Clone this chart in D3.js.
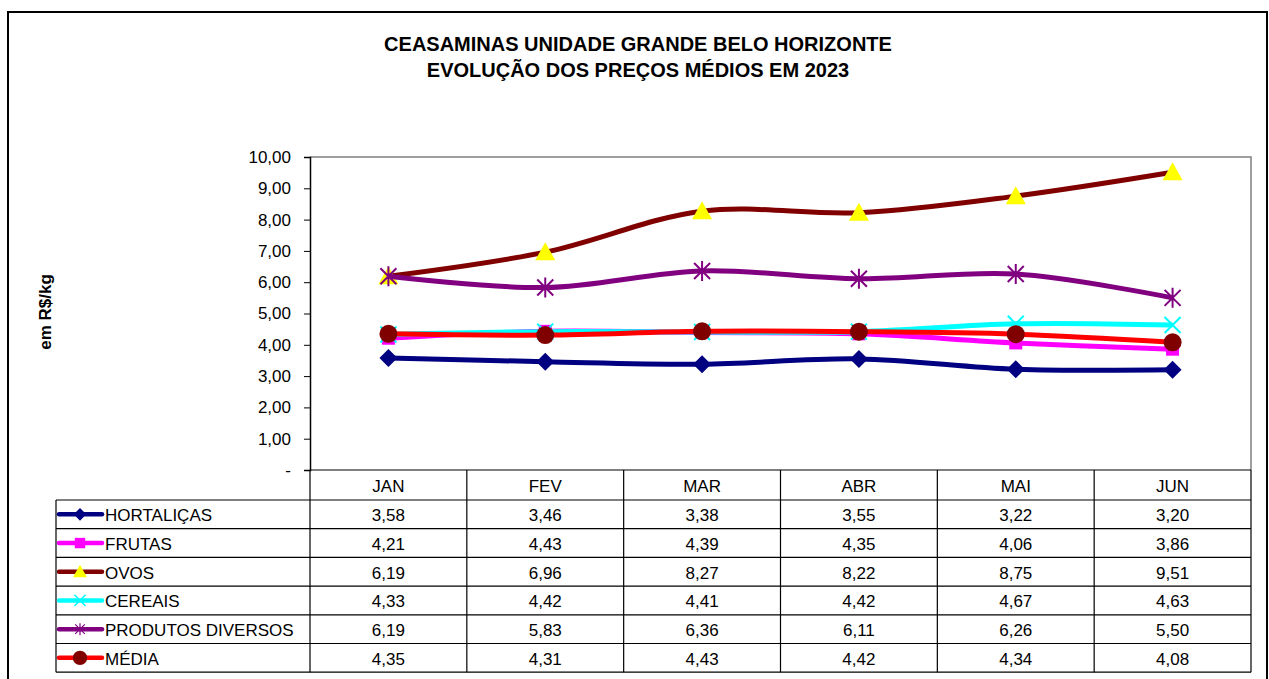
<!DOCTYPE html>
<html>
<head>
<meta charset="utf-8">
<script src="https://cdn.jsdelivr.net/npm/d3@7"></script>
<style>
  body { margin: 0; background: #fff; }
  text { font-family: "Liberation Sans", Arial, sans-serif; }
</style>
</head>
<body>
<div id="chart"></div>
<script>
// data
const months = ["JAN", "FEV", "MAR", "ABR", "MAI", "JUN"];
const seriesNames = ["HORTALIÇAS", "FRUTAS", "OVOS", "CEREAIS", "PRODUTOS DIVERSOS", "MÉDIA"];
const hortalicas = [3.58, 3.46, 3.38, 3.55, 3.22, 3.20];
const frutas = [4.21, 4.43, 4.39, 4.35, 4.06, 3.86];
const ovos = [6.19, 6.96, 8.27, 8.22, 8.75, 9.51];
const cereais = [4.33, 4.42, 4.41, 4.42, 4.67, 4.63];
const diversos = [6.19, 5.83, 6.36, 6.11, 6.26, 5.50];
const media = [4.35, 4.31, 4.43, 4.42, 4.34, 4.08];
const yTicks = [0, 1, 2, 3, 4, 5, 6, 7, 8, 9, 10];

const allValues = [hortalicas, frutas, ovos, cereais, diversos, media];
const styles = [
  { line: "#000080", marker: "diamond", fill: "#000080" },
  { line: "#FF00FF", marker: "square", fill: "#FF00FF" },
  { line: "#800000", marker: "triangle", fill: "#FFFF00" },
  { line: "#00FFFF", marker: "x", fill: "#00FFFF" },
  { line: "#800080", marker: "star", fill: "#800080" },
  { line: "#FF0000", marker: "circle", fill: "#800000" }
];
const series = seriesNames.map((name, i) => ({ name: name, values: allValues[i], style: styles[i] }));

const W = 1269, H = 679;
const plotL = 310, plotR = 1251, plotT = 157, plotB = 470;
const tableLeft = 56, rowH = 28.7, headerH = 30;
const fs = 17;

const fmt = v => v.toFixed(2).replace(".", ",");

const svg = d3.select("#chart").append("svg")
  .attr("width", W)
  .attr("height", H);

// outer frame
svg.append("rect")
  .attr("x", 8).attr("y", 12)
  .attr("width", 1259).attr("height", 700)
  .attr("fill", "none").attr("stroke", "#000").attr("stroke-width", 2);

// titles
svg.append("text").attr("x", 638).attr("y", 51)
  .attr("text-anchor", "middle").attr("font-size", 20).attr("font-weight", "bold")
  .text("CEASAMINAS UNIDADE GRANDE BELO HORIZONTE");
svg.append("text").attr("x", 638).attr("y", 77)
  .attr("text-anchor", "middle").attr("font-size", 20).attr("font-weight", "bold")
  .text("EVOLUÇÃO DOS PREÇOS MÉDIOS EM 2023");

svg.append("text")
  .attr("transform", "translate(51,312) rotate(-90)")
  .attr("text-anchor", "middle").attr("font-size", 17).attr("font-weight", "bold")
  .text("em R$/kg");

// scales
const x = d3.scaleBand().domain(months).range([plotL, plotR]);
const cx = m => x(m) + x.bandwidth() / 2;
const y = d3.scaleLinear().domain([0, 10]).range([plotB, plotT]);

// plot area border (grey top/right)
svg.append("path")
  .attr("d", `M${plotL},${plotT}H${plotR}V${plotB}`)
  .attr("fill", "none").attr("stroke", "#808080").attr("stroke-width", 1.5);

// y axis
const yAxis = d3.axisLeft(y)
  .tickValues(yTicks)
  .tickSize(6)
  .tickFormat(d => d === 0 ? "-" : fmt(d));
const yg = svg.append("g").attr("transform", `translate(${plotL},0)`).call(yAxis);
yg.select(".domain").attr("stroke", "#000").attr("stroke-width", 1.5);
yg.selectAll(".tick line").attr("stroke", "#000");
yg.selectAll(".tick text")
  .attr("x", -19)
  .attr("font-size", fs)
  .attr("font-family", "Liberation Sans, Arial, sans-serif")
  .attr("fill", "#000");

// lines
const line = d3.line()
  .x((d, i) => cx(months[i]))
  .y(d => y(d))
  .curve(d3.curveCatmullRom.alpha(0.5));

function drawMarker(g, type, px, py, fill) {
  if (type === "diamond") {
    g.append("path").attr("d", `M${px},${py - 9}L${px + 9},${py}L${px},${py + 9}L${px - 9},${py}Z`).attr("fill", fill);
  } else if (type === "square") {
    g.append("rect").attr("x", px - 6.5).attr("y", py - 6.5).attr("width", 13).attr("height", 13).attr("fill", fill);
  } else if (type === "triangle") {
    g.append("path").attr("d", `M${px},${py - 10}L${px + 10},${py + 8}L${px - 10},${py + 8}Z`).attr("fill", fill);
  } else if (type === "x") {
    g.append("path").attr("d", `M${px - 8},${py - 8}L${px + 8},${py + 8}M${px + 8},${py - 8}L${px - 8},${py + 8}`)
      .attr("stroke", fill).attr("stroke-width", 2);
  } else if (type === "star") {
    g.append("path").attr("d", `M${px - 8},${py - 8}L${px + 8},${py + 8}M${px + 8},${py - 8}L${px - 8},${py + 8}M${px},${py - 10}V${py + 10}`)
      .attr("stroke", fill).attr("stroke-width", 2);
  } else if (type === "circle") {
    g.append("circle").attr("cx", px).attr("cy", py).attr("r", 9).attr("fill", fill);
  }
}

series.forEach(s => {
  const g = svg.append("g");
  g.append("path")
    .attr("d", line(s.values))
    .attr("fill", "none")
    .attr("stroke", s.style.line)
    .attr("stroke-width", 5)
    .attr("stroke-linejoin", "round");
  s.values.forEach((v, i) => drawMarker(g, s.style.marker, cx(months[i]), y(v), s.style.fill));
});

// data table
const tableTop = plotB + headerH;
const tableBottom = tableTop + rowH * series.length;
const tg = svg.append("g").attr("stroke", "#000").attr("stroke-width", 1.2);

months.forEach(m => {
  tg.append("line").attr("x1", x(m)).attr("x2", x(m)).attr("y1", plotB).attr("y2", tableBottom);
});
tg.append("line").attr("x1", plotR).attr("x2", plotR).attr("y1", plotB).attr("y2", tableBottom);
tg.append("line").attr("x1", tableLeft).attr("x2", tableLeft).attr("y1", tableTop).attr("y2", tableBottom);
tg.append("line").attr("x1", plotL).attr("x2", plotR).attr("y1", plotB).attr("y2", plotB);
for (let r = 0; r <= series.length; r++) {
  tg.append("line").attr("x1", tableLeft).attr("x2", plotR)
    .attr("y1", tableTop + r * rowH).attr("y2", tableTop + r * rowH);
}

// header labels
months.forEach(m => {
  svg.append("text").attr("x", cx(m)).attr("y", plotB + 22)
    .attr("text-anchor", "middle").attr("font-size", fs).text(m);
});

// rows with legend keys
series.forEach((s, r) => {
  const ry = tableTop + r * rowH;
  const mid = ry + rowH / 2;
  const kg = svg.append("g");
  kg.append("line").attr("x1", 59).attr("x2", 102).attr("y1", mid).attr("y2", mid)
    .attr("stroke", s.style.line).attr("stroke-width", 4.5).attr("stroke-linecap", "round");
  const ms = { diamond: 0.7, square: 0.8, triangle: 0.7, x: 0.7, star: 0.6, circle: 0.8 }[s.style.marker];
  const mk = kg.append("g").attr("transform", `translate(80,${mid}) scale(${ms})`);
  drawMarker(mk, s.style.marker, 0, 0, s.style.fill);
  svg.append("text").attr("x", 105).attr("y", mid + 7)
    .attr("font-size", fs).text(s.name);
  s.values.forEach((v, i) => {
    svg.append("text").attr("x", cx(months[i])).attr("y", mid + 7)
      .attr("text-anchor", "middle").attr("font-size", fs).text(fmt(v));
  });
});
</script>
</body>
</html>
